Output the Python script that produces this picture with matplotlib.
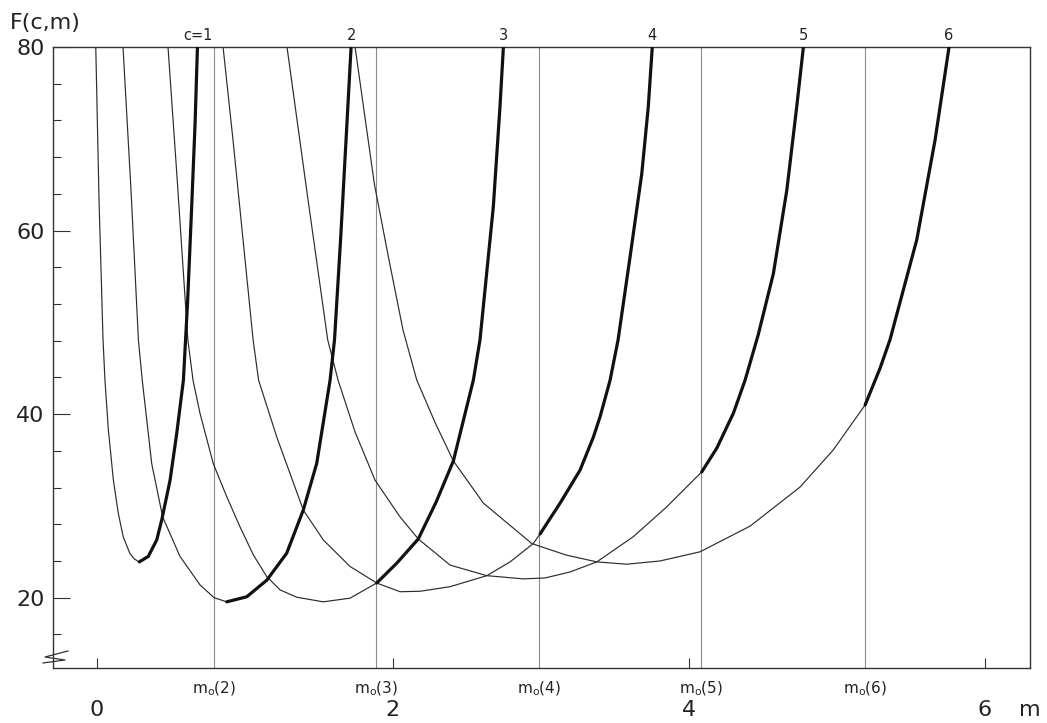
import numpy as np
import matplotlib
matplotlib.use('Agg')
from matplotlib import pyplot as plt

# curves F(c, m); the bold part starts at thick_from[c-1]
m_c1 = [-0.005, 0.017, 0.044, 0.057, 0.080, 0.114, 0.147, 0.181, 0.226, 0.257, 0.289,
        0.350, 0.407, 0.441, 0.497, 0.542, 0.587, 0.615, 0.643, 0.666, 0.682]
F_c1 = [80.0, 63.3, 48.1, 43.7, 38.3, 32.8, 29.2, 26.6, 24.8, 24.2, 23.9,
        24.5, 26.3, 28.5, 32.8, 37.9, 43.7, 52.1, 62.6, 71.7, 80.0]

m_c2 = [0.179, 0.233, 0.283, 0.309, 0.373, 0.447, 0.564, 0.699, 0.794, 0.880,
        1.015, 1.150, 1.285, 1.397, 1.488, 1.578, 1.608, 1.649, 1.686, 1.720]
F_c2 = [80.0, 64.4, 48.1, 43.7, 34.6, 28.8, 24.5, 21.4, 20.0, 19.55,
        20.1, 21.9, 24.85, 29.55, 34.65, 43.7, 48.1, 59.0, 69.9, 80.0]

m_c3 = [0.483, 0.542, 0.617, 0.652, 0.699, 0.789, 0.880, 0.970, 1.060, 1.150, 1.240, 1.353, 1.532, 1.713, 1.893,
        2.028, 2.174, 2.294, 2.411, 2.546, 2.591, 2.681, 2.726, 2.749]
F_c3 = [80.0, 66.3, 48.1, 43.7, 40.1, 34.6, 31.0, 27.7, 24.65, 22.3, 20.85, 20.05, 19.55, 19.95, 21.6,
        23.75, 26.4, 30.4, 34.9, 43.7, 48.1, 62.6, 73.5, 80.0]

m_c4 = [0.855, 0.922, 0.990, 1.058, 1.095, 1.218, 1.307, 1.397, 1.532, 1.713, 1.893, 2.051, 2.186, 2.389, 2.637,
        2.794, 2.951, 2.997, 3.132, 3.267, 3.357, 3.402, 3.470, 3.524, 3.605, 3.684, 3.728, 3.755]
F_c4 = [80.0, 69.9, 59.0, 48.1, 43.7, 37.5, 33.55, 29.55, 26.3, 23.4, 21.6, 20.65, 20.7, 21.2, 22.4,
        23.9, 25.9, 26.95, 30.3, 33.9, 37.5, 39.7, 43.7, 48.1, 57.15, 66.2, 73.5, 80.0]

m_c5 = [1.287, 1.420, 1.562, 1.632, 1.747, 1.882, 2.051, 2.174, 2.389, 2.637, 2.884, 3.030, 3.199, 3.380, 3.627,
        3.853, 4.089, 4.191, 4.303, 4.382, 4.470, 4.573, 4.664, 4.731, 4.776]
F_c5 = [80.0, 64.4, 48.1, 43.7, 38.05, 32.8, 28.8, 26.4, 23.55, 22.4, 22.05, 22.15, 22.8, 23.9, 26.65,
        29.9, 33.7, 36.3, 40.1, 43.7, 48.6, 55.3, 64.4, 73.5, 80.0]

m_c6 = [1.747, 1.877, 1.970, 2.071, 2.164, 2.287, 2.411, 2.614, 2.941, 3.172, 3.380, 3.582, 3.807, 4.078, 4.416,
        4.753, 4.978, 5.193, 5.294, 5.361, 5.542, 5.666, 5.760]
F_c6 = [80.0, 65.1, 57.3, 49.15, 43.7, 39.1, 34.9, 30.3, 25.9, 24.65, 23.9, 23.65, 24.0, 25.0, 27.8,
        32.05, 36.1, 41.0, 45.0, 48.1, 59.0, 69.9, 80.0]

thick_from = [0.289, 0.880, 1.893, 2.997, 4.089, 5.193]
curve_labels = ['c=1', '2', '3', '4', '5', '6']

m_o = [0.795, 1.89, 2.99, 4.087, 5.193]
m_o_labels = ['m$_\\mathrm{o}$(2)', 'm$_\\mathrm{o}$(3)', 'm$_\\mathrm{o}$(4)', 'm$_\\mathrm{o}$(5)', 'm$_\\mathrm{o}$(6)']

x_ticks = [0, 2, 4, 6]
y_ticks = [20, 40, 60, 80]
y_minor = [16, 24, 28, 32, 36, 44, 48, 52, 56, 64, 68, 72, 76]

plt.rcParams['font.family'] = 'DejaVu Sans'

W, H = 1047, 723
fig = plt.figure(figsize=(W / 100, H / 100), dpi=100)
ax = fig.add_axes([53 / W, 1 - 668 / H, 977 / W, 621 / H])
ax.set_xlim(-0.294, 6.307)
ax.set_ylim(12.34, 80)

# m_o lines
for mo, lbl in zip(m_o, m_o_labels):
    ax.axvline(mo, color='#8a8a8a', lw=0.8, zorder=1)
    ax.annotate(lbl, xy=(mo, 12.34), xytext=(0, -8.5), textcoords='offset points',
                ha='center', va='top', fontsize=11, color='#222222')

curves = [(m_c1, F_c1), (m_c2, F_c2), (m_c3, F_c3), (m_c4, F_c4), (m_c5, F_c5), (m_c6, F_c6)]
for (m, F), t, lbl in zip(curves, thick_from, curve_labels):
    m = np.array(m)
    F = np.array(F)
    thin = m <= t + 1e-9
    thick = m >= t - 1e-9
    ax.plot(m[thin], F[thin], color='#2b2b2b', lw=0.85, zorder=2, solid_joinstyle='round')
    ax.plot(m[thick], F[thick], color='#111111', lw=2.3, zorder=3,
            solid_capstyle='round', solid_joinstyle='round')
    ax.annotate(lbl, xy=(m[-1], 80), xytext=(0, 5), textcoords='offset points',
                ha='center', va='baseline', fontsize=10.5, color='#222222')

for s in ax.spines.values():
    s.set_linewidth(1.0)
    s.set_color('#333333')

ax.set_xticks(x_ticks)
ax.set_xticklabels([str(v) for v in x_ticks])
ax.set_yticks(y_ticks)
ax.set_yticklabels([str(v) for v in y_ticks])
ax.set_yticks(y_minor, minor=True)
ax.tick_params(axis='x', direction='in', length=7.5, width=0.8, pad=23, labelsize=16, colors='#333333', labelcolor='#222222')
ax.tick_params(axis='y', which='major', direction='in', length=12, width=0.8, pad=6, labelsize=16, colors='#333333', labelcolor='#222222')
ax.tick_params(axis='y', which='minor', direction='in', length=5.5, width=0.8, colors='#333333')

ax.annotate('m', xy=(1, 0), xycoords='axes fraction', xytext=(0, -23), textcoords='offset points',
            ha='center', va='top', fontsize=16, color='#222222')
fig.text(10 / W, 1 - 29.5 / H, 'F(c,m)', ha='left', va='baseline', fontsize=16, color='#222222')

# axis break mark at the bottom of the F axis
brk_x = [0.0154, -0.0082, 0.0123, -0.0102]
brk_y = [0.0274, 0.0177, 0.0129, 0.0081]
ax.plot(brk_x, brk_y, transform=ax.transAxes, color='#333333', lw=0.9, clip_on=False)

fig.savefig('out.png', dpi=100)
